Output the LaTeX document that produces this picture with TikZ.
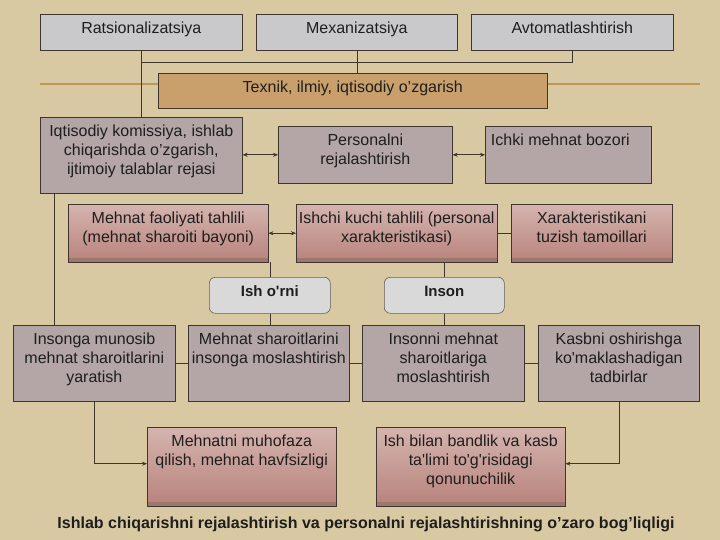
\documentclass[tikz,border=0pt]{standalone}
\usepackage{fontspec}
\setmainfont{Liberation Sans}
\usetikzlibrary{arrows.meta}
\definecolor{bg}{HTML}{D9C9A2}
\definecolor{decoline}{HTML}{BB9A55}
\definecolor{edge}{HTML}{3E352E}
\definecolor{marble}{HTML}{C9C9CB}
\definecolor{tanfill}{HTML}{C9A06B}
\definecolor{mauve}{HTML}{B4A5A6}
\definecolor{redtop}{HTML}{D5B4AF}
\definecolor{redbot}{HTML}{B8827B}
\definecolor{redshade}{HTML}{9C786C}
\definecolor{pill}{HTML}{DAD9D9}
\definecolor{ink}{HTML}{1E1E1E}
\newcommand\bx[7]{%
  \node[#1, minimum width=#5pt-#3pt, minimum height=#6pt-#4pt, anchor=north west] (#2) at (#3,#4) {};
  \node[txt, anchor=north] (#2-t) at (#2.north) {\rule{0pt}{19pt}#7};}
\newcommand\redbx[7]{%
  \node[redbox, minimum width=#5pt-#3pt, minimum height=#6pt-#4pt, anchor=north west] (#2) at (#3,#4) {};
  \fill[redshade] ([yshift=4pt]#2.south west) rectangle (#2.south east);
  \draw[edge, line width=0.6pt] (#2.north west) rectangle (#2.south east);
  \node[txt, anchor=north] (#2-t) at (#2.north) {\rule{0pt}{19pt}#7};}
\begin{document}
\begin{tikzpicture}[x=1pt, y=-1pt,
  txt/.style={inner sep=0pt, align=center, text=ink, font=\fontsize{16}{19}\selectfont},
  greybox/.style={draw=edge, line width=0.6pt, fill=marble, inner sep=0pt},
  tanbox/.style={draw=edge, line width=0.6pt, fill=tanfill, inner sep=0pt},
  mauvebox/.style={draw=edge, line width=0.6pt, fill=mauve, inner sep=0pt},
  redbox/.style={top color=redtop, bottom color=redbot, inner sep=0pt},
  pillbox/.style={draw=edge!80, line width=0.6pt, fill=pill, rounded corners=6pt, inner sep=0pt},
  conn/.style={draw=edge, line width=0.6pt},
  tip/.style={-{Stealth[length=5pt,width=4pt]}},
  dtip/.style={{Stealth[length=5pt,width=4pt]}-{Stealth[length=5pt,width=4pt]}}]
\fill[bg] (0,0) rectangle (720,540);
\useasboundingbox (0,0) rectangle (720,540);
\draw[decoline, line width=1.5pt] (40,84) -- (700,84);

% top row
\bx{greybox}{rat}{40}{14}{242}{50}{Ratsionalizatsiya}
\bx{greybox}{mex}{256}{14}{457}{50}{Mexanizatsiya}
\bx{greybox}{avt}{471}{14}{673}{50}{Avtomatlashtirish}

% connector behind the Texnik box
\coordinate (j1) at (141,62);
\draw[conn] (rat.south) -- (rat.south |- 0,117);
\bx{tanbox}{tex}{158}{73}{547}{108}{Texnik, ilmiy, iqtisodiy o’zgarish}

% row 2
\bx{mauvebox}{iq}{40}{117}{242}{193}{Iqtisodiy komissiya, ishlab\\chiqarishda o’zgarish,\\ijtimoiy talablar rejasi}
\bx{mauvebox}{per}{278}{126}{452}{183}{Personalni\\rejalashtirish}
\bx{mauvebox}{ich}{485}{126}{651}{183}{\hspace*{-16pt}Ichki mehnat bozori}

% row 3
\redbx{redbox}{mf}{68}{204}{268}{262}{Mehnat faoliyati tahlili\\(mehnat sharoiti bayoni)}
\redbx{redbox}{ik}{296}{204}{497}{262}{Ishchi kuchi tahlili (personal\\xarakteristikasi)}
\redbx{redbox}{xar}{511}{204}{672}{262}{Xarakteristikani\\tuzish tamoillari}

% pills
\node[pillbox, minimum width=121pt, minimum height=36pt, anchor=north west] (ish) at (209,277) {};
\node[txt, font=\bfseries\fontsize{15}{18}\selectfont, anchor=north] (ish-t) at (ish.north) {\rule{0pt}{19pt}Ish o\textquotesingle rni};
\node[pillbox, minimum width=120pt, minimum height=36pt, anchor=north west] (inson) at (384,277) {};
\node[txt, font=\bfseries\fontsize{15}{18}\selectfont, anchor=north] (inson-t) at (inson.north) {\rule{0pt}{19pt}Inson};

% row 4
\bx{mauvebox}{ra}{13}{325}{175}{401}{Insonga munosib\\mehnat sharoitlarini\\yaratish}
\bx{mauvebox}{rb}{188}{325}{349}{401}{Mehnat sharoitlarini\\insonga moslashtirish}
\bx{mauvebox}{rc}{362}{325}{524}{401}{Insonni mehnat\\sharoitlariga\\moslashtirish}
\bx{mauvebox}{rd}{538}{325}{699}{401}{Kasbni oshirishga\\ko\textquotesingle maklashadigan\\tadbirlar}

% row 5
\redbx{redbox}{mm}{147}{427}{336}{506}{Mehnatni muhofaza\\qilish, mehnat havfsizligi}
\redbx{redbox}{ib}{376}{427}{565}{506}{Ish bilan bandlik va kasb\\ta\textquotesingle limi to\textquotesingle g\textquotesingle risidagi\\qonunuchilik}

% connectors
\draw[conn] (avt.south) |- (j1);
\draw[conn] (mex.south) -- (mex.south |- tex.north);
\draw[conn, dtip] (iq.east |- per.west) -- (per.west);
\draw[conn, dtip] (per.east) -- (ich.west);
\draw[conn] ([xshift=14pt]iq.south west) -- ([xshift=14pt]iq.south west |- ra.north);
\draw[conn, dtip] (mf.east) -- (ik.west);
\draw[conn] (ik.east) -- (xar.west);
\draw[conn] (ish.north) -- (ish.north |- mf.south);
\draw[conn] (ish.south) -- (ish.south |- rb.north);
\draw[conn] (inson.north) -- (inson.north |- ik.south);
\draw[conn] (inson.south) -- (inson.south |- rc.north);
\draw[conn] (ra.east) -- (rb.west);
\draw[conn] (rb.east) -- (rc.west);
\draw[conn] (rc.east) -- (rd.west);
\draw[conn, tip] (ra.south) |- ([yshift=3pt]mm.west);
\draw[conn, tip] (rd.south) |- ([yshift=3pt]ib.east);

% caption
\node[txt, font=\bfseries\fontsize{16}{19}\selectfont] (cap) at (366,524) {Ishlab chiqarishni rejalashtirish va personalni rejalashtirishning o’zaro bog’liqligi};
\end{tikzpicture}
\end{document}
